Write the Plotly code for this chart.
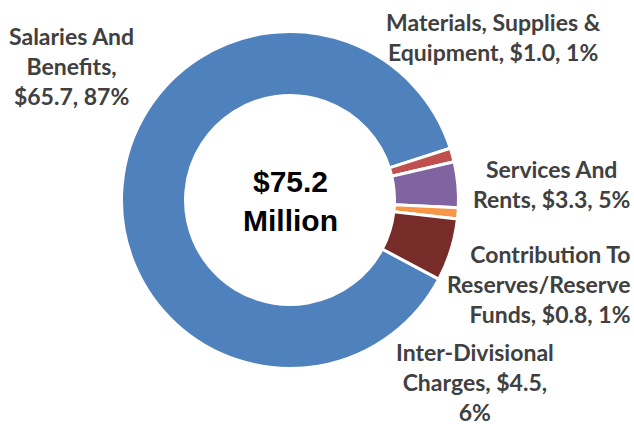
import plotly.graph_objects as go

# ---- data ----
categories = [
    "Salaries And Benefits",
    "Materials, Supplies & Equipment",
    "Services And Rents",
    "Contribution To Reserves/Reserve Funds",
    "Inter-Divisional Charges",
]
values = [65.7, 1.0, 3.3, 0.8, 4.5]          # $ millions
percents = [87, 1, 5, 1, 6]                   # % as labelled
total_label = "$75.2<br>Million"

# label text line-breaking (display only)
label_names = [
    "Salaries And<br>Benefits",
    "Materials, Supplies &<br>Equipment",
    "Services And<br>Rents",
    "Contribution To<br>Reserves/Reserve<br>Funds",
    "Inter-Divisional<br>Charges",
]
label_seps = [(",<br>", ", "), (", ", ", "), (", ", ", "), (", ", ", "), (", ", ",<br>")]

colors = ["#4F81BD", "#C0504D", "#8064A2", "#F79646", "#772C2A"]

# label placement (pixel positions in the 634x424 page)
label_pos = [
    (71, 66, "center"),
    (493, 37, "center"),
    (551, 184, "center"),
    (632, 284, "right"),
    (475, 382, "center"),
]

W, H = 634, 424
cx, cy, R = 290, 200, 168.5

fig = go.Figure(
    go.Pie(
        labels=categories,
        values=values,
        hole=0.62,
        sort=False,
        direction="clockwise",
        rotation=118,
        marker=dict(colors=colors, line=dict(color="white", width=3)),
        textinfo="none",
        hoverinfo="label+value+percent",
        showlegend=False,
        domain=dict(
            x=[(cx - R) / W, (cx + R) / W],
            y=[(H - cy - R) / H, (H - cy + R) / H],
        ),
    )
)

annotations = []
for name, v, p, (s1, s2), (px, py, al) in zip(label_names, values, percents, label_seps, label_pos):
    annotations.append(
        dict(
            text=f"{name}{s1}${v:.1f}{s2}{p}%",
            x=px / W,
            y=1 - py / H,
            xref="paper",
            yref="paper",
            xanchor=al,
            yanchor="middle",
            align=al,
            showarrow=False,
            font=dict(family="Lato", size=23, color="#404040", weight="bold"),
        )
    )

annotations.append(
    dict(
        text=f"<b>{total_label}</b>",
        x=cx / W,
        y=1 - 201 / H,
        xref="paper",
        yref="paper",
        xanchor="center",
        yanchor="middle",
        align="center",
        showarrow=False,
        font=dict(family="Liberation Sans, Arial", size=30, color="black"),
    )
)

fig.update_layout(
    width=W,
    height=H,
    margin=dict(l=0, r=0, t=0, b=0),
    paper_bgcolor="white",
    plot_bgcolor="white",
    annotations=annotations,
)

fig.write_html(
    "out.html",
    config={"displayModeBar": False},
    post_script="document.body.style.margin='0';"
                "document.documentElement.style.overflow='hidden';",
)
